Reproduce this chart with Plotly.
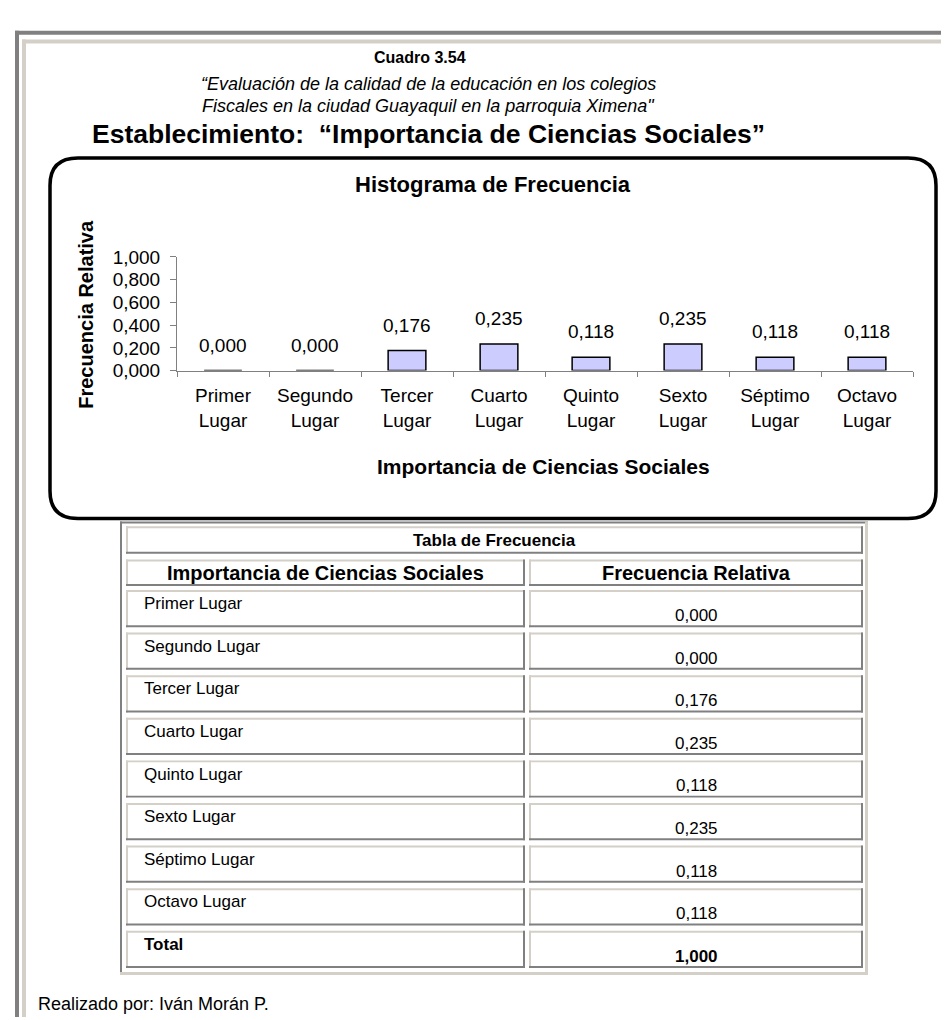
import plotly.graph_objects as go

W, H = 949, 1020

# ---------------- data ----------------
categories = ["Primer Lugar", "Segundo Lugar", "Tercer Lugar", "Cuarto Lugar",
              "Quinto Lugar", "Sexto Lugar", "Séptimo Lugar", "Octavo Lugar"]
tick_labels = ["Primer<br>Lugar", "Segundo<br>Lugar", "Tercer<br>Lugar", "Cuarto<br>Lugar",
               "Quinto<br>Lugar", "Sexto<br>Lugar", "Séptimo<br>Lugar", "Octavo<br>Lugar"]
rel_freq = [0.000, 0.000, 0.176, 0.235, 0.118, 0.235, 0.118, 0.118]
y_ticks = [0.0, 0.2, 0.4, 0.6, 0.8, 1.0]
total_label = "Total"
total_value = 1.000

title_num = "Cuadro 3.54"
title_l1 = "“Evaluación de la calidad de la educación en los colegios"
title_l2 = "Fiscales en la ciudad Guayaquil en la parroquia Ximena\""
title_main = "Establecimiento:  “Importancia de Ciencias Sociales”"
chart_title = "Histograma de Frecuencia"
x_title = "Importancia de Ciencias Sociales"
y_title = "Frecuencia Relativa"
table_title = "Tabla de Frecuencia"
col_headers = ["Importancia de Ciencias Sociales", "Frecuencia Relativa"]
footer = "Realizado por: Iván Morán P."

FONT = "Liberation Sans, Arial, Helvetica, sans-serif"
DARK = "#808080"
LIGHT = "#D4D0C8"


def fmt(v):
    return f"{v:.3f}".replace(".", ",")


def px(x):
    return x / W


def py(y):
    return 1 - y / H


shapes = []
annotations = []


def rect(x0, y0, x1, y1, fill):
    shapes.append(dict(type="rect", xref="paper", yref="paper",
                       x0=px(x0), x1=px(x1), y0=py(y1), y1=py(y0),
                       fillcolor=fill, line=dict(width=0, color=fill),
                       layer="below"))


def text(x, y, s, size=18, bold=False, italic=False, xanchor="center", yanchor="middle",
         angle=0, color="black"):
    if bold:
        s = f"<b>{s}</b>"
    if italic:
        s = f"<i>{s}</i>"
    annotations.append(dict(xref="paper", yref="paper", x=px(x), y=py(y), text=s,
                            showarrow=False, xanchor=xanchor, yanchor=yanchor,
                            textangle=angle,
                            font=dict(family=FONT, size=size, color=color)))


# ---------------- page frame ----------------
rect(7, 13, W, 17, DARK)
rect(7, 13, 11, H, DARK)
rect(14, 22, W, 26, LIGHT)
rect(14, 22, 18, H, LIGHT)

# ---------------- titles ----------------
text(412, 40, title_num, size=16, bold=True)
text(420, 67, title_l1, size=18, italic=True)
text(420, 90, title_l2, size=18, italic=True)
text(420, 118, title_main, size=26.5, bold=True)

# ---------------- rounded chart box ----------------
bx0, by0, bx1, by1, r = 42, 143, 928, 511, 28
path = (f"M {px(bx0 + r)},{py(by0)} L {px(bx1 - r)},{py(by0)} "
        f"Q {px(bx1)},{py(by0)} {px(bx1)},{py(by0 + r)} "
        f"L {px(bx1)},{py(by1 - r)} Q {px(bx1)},{py(by1)} {px(bx1 - r)},{py(by1)} "
        f"L {px(bx0 + r)},{py(by1)} Q {px(bx0)},{py(by1)} {px(bx0)},{py(by1 - r)} "
        f"L {px(bx0)},{py(by0 + r)} Q {px(bx0)},{py(by0)} {px(bx0 + r)},{py(by0)} Z")
shapes.append(dict(type="path", xref="paper", yref="paper", path=path,
                   line=dict(color="black", width=3.5), fillcolor="rgba(0,0,0,0)"))

text(485, 170, chart_title, size=22, bold=True)
text(78, 303, y_title, size=20, bold=True, angle=-90)
text(535, 458, x_title, size=21, bold=True)

# plot area
PX0, PX1, PY0, PY1 = 169, 905, 244, 360

fig = go.Figure()
fig.add_trace(go.Bar(
    x=categories, y=rel_freq, width=0.41,
    marker=dict(color="#CCCCFF", line=dict(color="black", width=1.5)),
    hoverinfo="skip", showlegend=False,
))

for c, v in zip(categories, rel_freq):
    annotations.append(dict(xref="x", yref="y", x=c, y=v, text=fmt(v), showarrow=False,
                            yanchor="bottom", yshift=13,
                            font=dict(family=FONT, size=19, color="black")))

# ---------------- table ----------------
TX0, TX1, TY0, TY1 = 112, 860, 514, 977
rect(TX0, TY0, TX1, TY0 + 2, DARK)
rect(TX0, TY0, TX0 + 2, TY1, DARK)
rect(TX0, TY1 - 3, TX1, TY1, LIGHT)
rect(TX1 - 3, TY0, TX1, TY1, LIGHT)


def cell(x0, y0, x1, y1):
    rect(x0, y0, x1, y0 + 2, LIGHT)
    rect(x0, y0, x0 + 2, y1, LIGHT)
    rect(x0, y1 - 2, x1, y1, DARK)
    rect(x1 - 2, y0, x1, y1, DARK)


C1X0, C1X1, C2X0, C2X1 = 118, 517, 521, 855
cell(C1X0, 519, C2X1, 547)
text((C1X0 + C2X1) / 2, 533, table_title, size=17, bold=True)
cell(C1X0, 553, C1X1, 580)
cell(C2X0, 553, C2X1, 580)
text((C1X0 + C1X1) / 2, 567, col_headers[0], size=20, bold=True)
text((C2X0 + C2X1) / 2, 567, col_headers[1], size=20, bold=True)

row_labels = categories + [total_label]
row_values = rel_freq + [total_value]
for i, (lab, val) in enumerate(zip(row_labels, row_values)):
    top = 584 + 43.5 * i
    bot = top + 38
    cell(C1X0, top, C1X1, bot)
    cell(C2X0, top, C2X1, bot)
    is_total = (i == len(row_labels) - 1)
    text(134, top + 14, lab, size=17, bold=is_total, xanchor="left")
    text((C2X0 + C2X1) / 2, top + 26, fmt(val), size=17, bold=is_total)

text(28, 1007, footer, size=18, xanchor="left")

fig.update_layout(
    width=W, height=H,
    margin=dict(l=0, r=0, t=0, b=0),
    paper_bgcolor="white", plot_bgcolor="white",
    separators=",.",
    shapes=shapes, annotations=annotations,
    xaxis=dict(domain=[px(PX0), px(PX1)], showline=True, linecolor=DARK, linewidth=1,
               ticks="outside", tickson="boundaries", ticklen=5, tickcolor=DARK,
               tickvals=categories, ticktext=tick_labels, ticklabelstandoff=8,
               tickfont=dict(family=FONT, size=19, color="black"),
               showgrid=False, zeroline=False, fixedrange=True),
    yaxis=dict(domain=[py(PY1), py(PY0)], range=[0, 1], showline=True, linecolor=DARK,
               linewidth=1, ticks="outside", ticklen=6, tickcolor=DARK,
               tickvals=y_ticks, tickformat=".3f", ticklabelstandoff=6,
               tickfont=dict(family=FONT, size=19, color="black"),
               showgrid=False, zeroline=False, fixedrange=True),
)

fig.write_html("out.html")
